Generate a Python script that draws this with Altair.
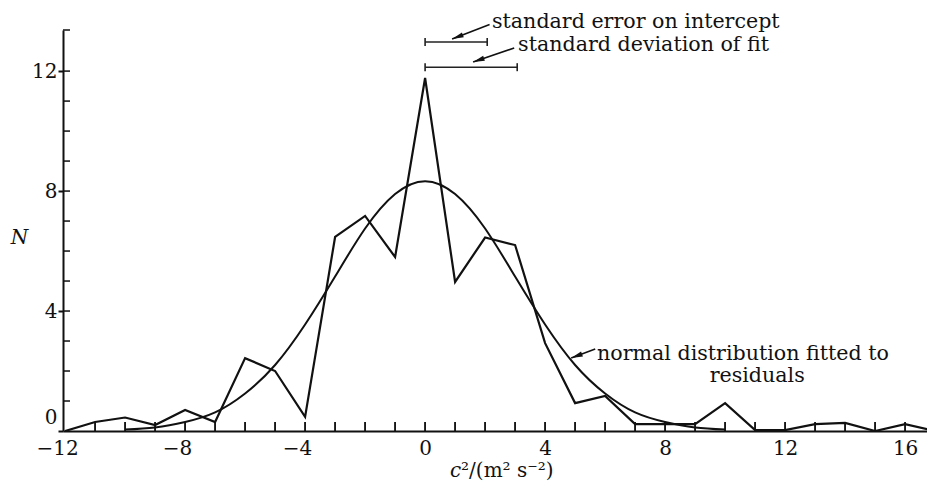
import math
import altair as alt
import pandas as pd

# Residual histogram: counts N at each c^2 value
resid_x = [-12, -11, -10, -9, -8, -7, -6, -5, -4, -3, -2, -1, 0, 1, 2, 3, 4, 5, 6, 7,
           8, 9, 10, 11, 12, 13, 14, 15, 16, 17]
resid_n = [0, 0.3, 0.45, 0.2, 0.7, 0.3, 2.43, 2.0, 0.47, 6.47, 7.17, 5.8, 11.77, 4.97,
           6.45, 6.2, 2.93, 0.93, 1.17, 0.23, 0.23, 0.23, 0.93, 0.03, 0.03, 0.23, 0.27,
           0, 0.23, 0]

# Fitted normal curve, read at integer c^2
fit_x = [-10, -9, -8, -7, -6, -5, -4, -3, -2, -1, 0, 1, 2, 3, 4, 5, 6, 7, 8, 9, 10]
fit_n = [0.05, 0.12, 0.3, 0.62, 1.25, 2.2, 3.55, 5.15, 6.75, 7.9, 8.33, 7.9, 6.75,
         5.15, 3.55, 2.2, 1.25, 0.62, 0.3, 0.12, 0.05]

# Horizontal bars at the top: label, level, left end, right end
bar_names = ["standard error on intercept", "standard deviation of fit"]
bar_y = [12.97, 12.13]
bar_x0 = [0.0, 0.0]
bar_x1 = [2.07, 3.07]

# Annotation text and arrows
note_text = ["standard error on intercept", "standard deviation of fit",
             "normal distribution fitted to"]
note_x = [2.23, 3.1, 5.73]
note_y = [13.44, 12.67, 2.37]
arrow_tail_x = [2.15, 2.97, 5.67]
arrow_tail_y = [13.55, 12.77, 2.73]
arrow_head_x = [0.9, 1.6, 4.87]
arrow_head_y = [13.07, 12.3, 2.43]

# Axes
X_DOMAIN = [-12.07, 16.73]
Y_DOMAIN = [0, 13.37]
x_labels = [-12, -8, -4, 0, 4, 8, 12, 16]
x_ticks = list(range(-11, 17))
y_labels = [0, 4, 8, 12]
y_ticks = list(range(1, 13)) + [Y_DOMAIN[1]]

W, H = 864, 401
FONT = "DejaVu Serif"
FS = 20
NOTE_FS = 20.6
INK = "#111111"

xs = alt.Scale(domain=X_DOMAIN, nice=False, zero=False)
ys = alt.Scale(domain=Y_DOMAIN, nice=False, zero=False)

x_axis = alt.Axis(
    values=x_labels, ticks=False, grid=False, title=None,
    domainColor=INK, domainWidth=2, labelColor=INK, labelFont=FONT,
    labelFontSize=FS, labelPadding=7, labelFlush=False, labelOverlap=False,
    labelOffset={"condition": {"test": "datum.value < 0", "value": -8}, "value": 0},
)
y_axis = alt.Axis(
    values=y_labels, tickSize=5, tickWidth=2, tickColor=INK, grid=False,
    domainColor=INK, domainWidth=2, labelColor=INK, labelFont=FONT,
    labelFontSize=FS, labelPadding=1, labelFlush=False, labelOverlap=False,
    labelOffset={"condition": {"test": "datum.value === 0", "value": -14}, "value": 0},
    title="N", titleFont=FONT, titleFontSize=FS, titleFontStyle="italic",
    titleFontWeight="normal", titleColor=INK, titleAngle=0, titleX=-44, titleY=207,
    titleAlign="center", titleBaseline="middle",
)


def X(field):
    return alt.X(field, scale=xs, axis=x_axis)


def Y(field):
    return alt.Y(field, scale=ys, axis=y_axis)


resid_df = pd.DataFrame({"c2": resid_x, "N": resid_n})
fit_df = pd.DataFrame({"c2": fit_x, "N": fit_n})

resid = alt.Chart(resid_df).mark_line(color=INK, strokeWidth=2.2, clip=True).encode(
    x=X("c2:Q"), y=Y("N:Q"),
)

fit = alt.Chart(fit_df).mark_line(color=INK, strokeWidth=2, interpolate="natural").encode(
    x=X("c2:Q"), y=Y("N:Q"),
)

# inward tick marks rising from the x axis (short vertical strokes centred just above it)
xt_df = pd.DataFrame({"tick": x_ticks, "lift": [0.15] * len(x_ticks)})
xt = alt.Chart(xt_df).mark_point(
    shape="M0,-1L0,1", size=81, stroke=INK, strokeWidth=1.5, filled=False, opacity=1,
).encode(
    x=X("tick:Q"), y=Y("lift:Q"),
)
xt_rule = alt.Chart(xt_df).mark_rule(color=INK, strokeWidth=1.5).encode(
    x=X("tick:Q"), y=alt.value(H), y2=alt.value(H - 9),
)
# inward tick marks pointing right from the y axis
yt_df = pd.DataFrame({"level": y_ticks, "base": [X_DOMAIN[0]] * len(y_ticks)})
yt = alt.Chart(yt_df).mark_point(
    shape="M0,0L2,0", size=49, stroke=INK, strokeWidth=1.5, filled=False, opacity=1
).encode(
    x=X("base:Q"), y=Y("level:Q"),
)

bars_df = pd.DataFrame({"name": bar_names, "y": bar_y, "x0": bar_x0, "x1": bar_x1})
bars = alt.Chart(bars_df).mark_rule(color="#222222", strokeWidth=1.6).encode(
    x=X("x0:Q"), x2="x1:Q", y=Y("y:Q"),
)
caps_df = pd.DataFrame({
    "x": bar_x0 + bar_x1,
    "y": bar_y + bar_y,
})
caps = alt.Chart(caps_df).mark_point(
    shape="M0,-1L0,1", size=64, stroke="#222222", strokeWidth=1.6, filled=False, opacity=1
).encode(
    x=X("x:Q"), y=Y("y:Q"),
)

# arrows: shaft + rotated head with its tip at the head point
px_x = W / (X_DOMAIN[1] - X_DOMAIN[0])
px_y = H / (Y_DOMAIN[1] - Y_DOMAIN[0])
angles = []
for tx, ty, hx, hy in zip(arrow_tail_x, arrow_tail_y, arrow_head_x, arrow_head_y):
    dx = (hx - tx) * px_x
    dy = -(hy - ty) * px_y
    angles.append(math.degrees(math.atan2(dx, -dy)) % 360)

arrows_df = pd.DataFrame({
    "tx": arrow_tail_x, "ty": arrow_tail_y,
    "hx": arrow_head_x, "hy": arrow_head_y, "ang": angles,
})
shafts = alt.Chart(arrows_df).mark_rule(color=INK, strokeWidth=1.6).encode(
    x=X("tx:Q"), x2="hx:Q", y=Y("ty:Q"), y2="hy:Q",
)
heads = alt.Chart(arrows_df).mark_point(
    shape="M0,0L0.5,2.2L-0.5,2.2Z", size=110, filled=True, color=INK, opacity=1
).encode(
    x=X("hx:Q"), y=Y("hy:Q"),
    angle=alt.Angle("ang:Q", scale=None),
)

notes_df = pd.DataFrame({"text": note_text, "x": note_x, "y": note_y})
notes = alt.Chart(notes_df).mark_text(
    align="left", baseline="alphabetic", font=FONT, fontSize=NOTE_FS, color=INK
).encode(
    x=X("x:Q"), y=Y("y:Q"), text="text:N",
)
second_line = alt.Chart(pd.DataFrame({"text": ["residuals"], "x": [11.07], "y": [1.63]})).mark_text(
    align="center", baseline="alphabetic", font=FONT, fontSize=NOTE_FS, color=INK
).encode(
    x=X("x:Q"), y=Y("y:Q"), text="text:N",
)

# x-axis title: italic c followed by the units
title_df = pd.DataFrame({"x": [1.2], "y": [-1.53]})
title_c = alt.Chart(title_df).mark_text(
    align="right", baseline="alphabetic", font=FONT, fontSize=FS, fontStyle="italic", color=INK
).encode(
    x=X("x:Q"), y=Y("y:Q"), text=alt.value("c"),
)
title_rest = alt.Chart(title_df).mark_text(
    align="left", baseline="alphabetic", font=FONT, fontSize=FS, color=INK
).encode(
    x=X("x:Q"), y=Y("y:Q"), text=alt.value("\u00b2/(m\u00b2 s\u207b\u00b2)"),
)

chart = alt.layer(
    resid, fit, xt, xt_rule, yt, bars, caps, shafts, heads, notes, second_line,
    title_c, title_rest
).properties(
    width=W, height=H,
    autosize=alt.AutoSizeParams(type="none"),
    padding={"left": 63, "top": 30, "right": 0, "bottom": 56},
    background="white",
).configure_view(stroke=None)

chart.save("out.html", embed_options={"renderer": "svg", "actions": False})
